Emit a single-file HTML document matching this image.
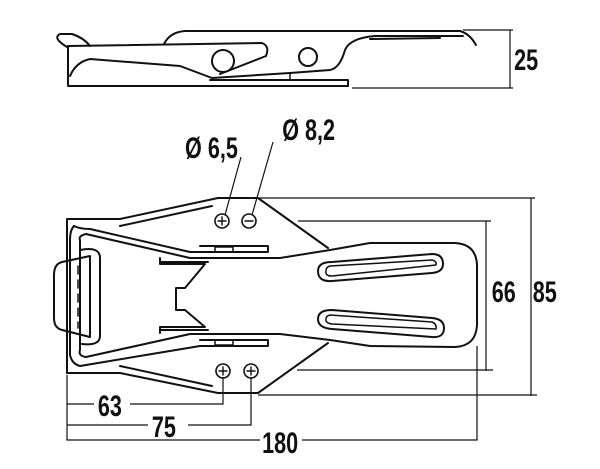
<!DOCTYPE html>
<html><head><meta charset="utf-8"><style>
html,body{margin:0;padding:0;background:#fff}
svg{display:block}
text{font-family:"Liberation Sans",sans-serif;font-weight:bold;fill:#111}
</style></head><body>
<svg width="600" height="469" viewBox="0 0 600 469" xmlns="http://www.w3.org/2000/svg">
<g fill="none" stroke="#111" stroke-width="2" stroke-linejoin="round" stroke-linecap="round">
<path d="M67,47 Q52,38 60,34 L72,34 Q84,38 90,46"/>
<path d="M68,46 L262,43 Q270,46 266,56 L220,74"/>
<path d="M68,46 L68,86 L348,86 L348,80 L210,80"/>
<path d="M70,76 Q76,62 90,59 L180,66 L212,78"/>
<path d="M164,44 Q170,32 185,31 L460,31 Q470,34 476,45"/>
<path d="M463,36 L375,36 Q350,38 345,50 Q340,68 330,70 L290,73 L212,78"/>
<path d="M370,39 L440,38"/>
<circle cx="223" cy="61" r="11"/>
<circle cx="308" cy="57" r="9"/>
<path d="M290,73 L290,80" stroke-width="1.5"/>
<path d="M67,373 L67,219 L120,219 L218,198 L258,198 L328,248"/>
<path d="M120,226 L212,206"/>
<path d="M67,373 L120,373 L218,393 L258,393 L328,343"/>
<path d="M120,366 L212,386"/>
<path d="M74,226 Q70,230 70,240 L70,355 Q72,364 80,366 L200,346 L268,346 L268,340 L200,340"/>
<path d="M74,226 Q80,229 90,229 L190,252 L268,252 L268,246 L200,246"/>
<path d="M80,240 Q78,236 86,234 L190,258 L280,258 L330,250 L370,243 L455,243 Q476,244 477,265 L477,325 Q476,346 455,347 L370,346 L330,340 L280,334 L190,334 L86,357 Q78,356 80,350 Z"/>
<path d="M80,250 Q100,246 100,258 L100,336 Q100,346 82,344"/>
<path d="M90,256 L62,262 Q54,264 54,275 L54,318 Q54,328 62,330 L90,337 Z"/>
<path d="M78,266 L78,328" stroke-dasharray="8,6" stroke-width="1.5"/>
<path d="M160,258 L160,264 L205,264 L185,288 L176,288 L176,310 L185,310 L205,327 L160,327 L160,333"/>
<path d="M160,262 L208,262 M160,330 L208,330"/>
<path d="M215,252 L215,247 L233,247 L233,252 M215,340 L215,345 L233,345 L233,340" stroke-width="1.5"/>
<path d="M332,262 L432,254 Q443,254 443,264 Q443,272 432,273 L332,281 Q318,282 318,271 Q318,262 332,262 Z"/>
<path d="M330,266 L432,260 Q437,261 436,265 L332,276 Q325,276 326,271 Q326,267 330,266 Z" stroke-width="1.5"/>
<path d="M332,310 L432,318 Q444,319 444,328 Q444,338 432,337 L332,329 Q318,328 318,319 Q318,310 332,310 Z"/>
<path d="M330,315 L432,322 Q437,324 436,329 L332,324 Q325,323 326,319 Q326,316 330,315 Z" stroke-width="1.5"/>
<circle cx="222" cy="221" r="7" stroke-width="1.6"/><path d="M218,221 H226 M222,217 V225" stroke-width="1.4"/>
<circle cx="249" cy="221" r="7" stroke-width="1.6"/><path d="M245,221 H253" stroke-width="1.4"/>
<circle cx="223" cy="371" r="7" stroke-width="1.6"/><path d="M219,371 H227 M223,367 V375" stroke-width="1.4"/>
<circle cx="251" cy="371" r="7" stroke-width="1.6"/><path d="M247,371 H255 M251,367 V375" stroke-width="1.4"/>
</g>
<g fill="none" stroke="#111" stroke-width="1.2">
<path d="M463,30 H513 M352,88 H513 M510,30 V88"/>
<path d="M241,157 L225,215 M273,142 L252,215"/>
<path d="M258,198 H535 M531,198 V396 M258,395 H537"/>
<path d="M298,221 H491 M486,221 V371 M297,370 H493"/>
<path d="M67,375 V440 H260 M302,440 H477 V346"/>
<path d="M67,404 H94 M130,404 H223 V377"/>
<path d="M67,425 H148 M188,425 H251 V377"/>
</g>
<g font-size="30" transform="scale(0.72,1)">
<text x="714" y="70">25</text>
<text x="257" y="158">Ø 6,5</text>
<text x="392" y="140">Ø 8,2</text>
<text x="683" y="302">66</text>
<text x="740" y="302">85</text>
<text x="136" y="416">63</text>
<text x="211" y="437">75</text>
<text x="364" y="453">180</text>
</g>
</svg>
</body></html>
